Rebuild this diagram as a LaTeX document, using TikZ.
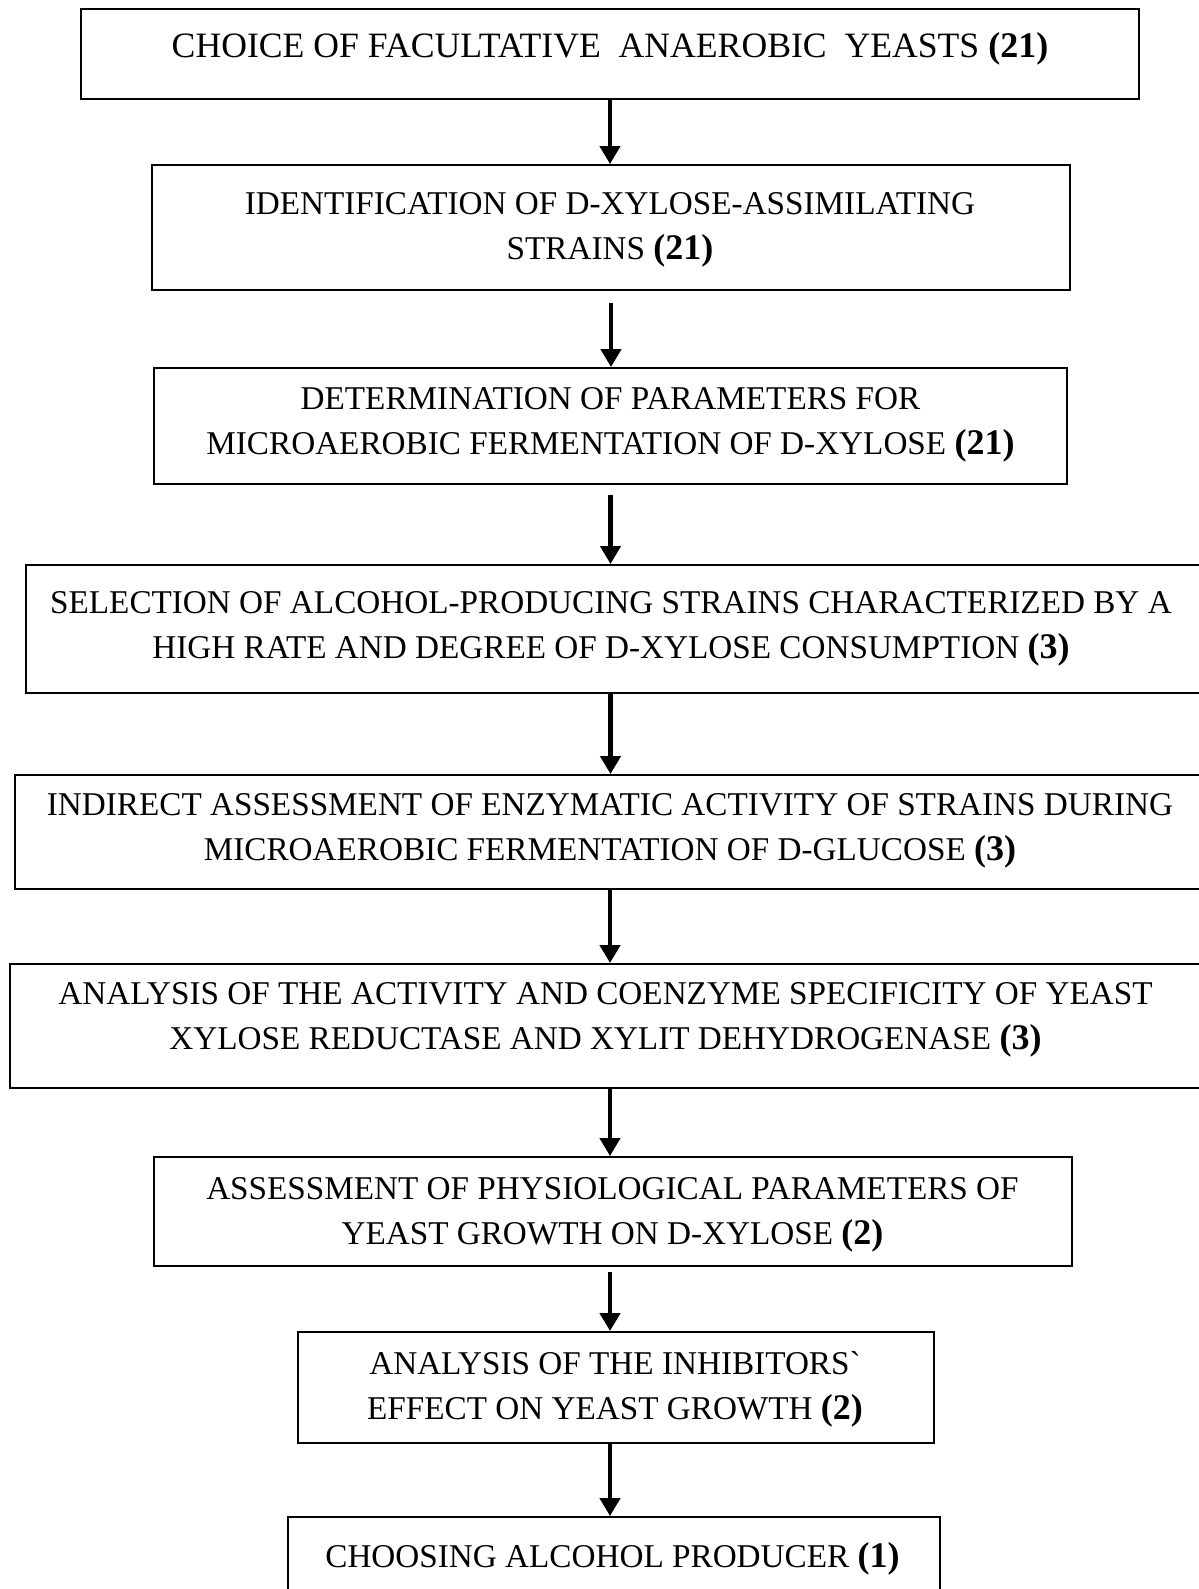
\documentclass[tikz,border=0pt]{standalone}
\usepackage{fontspec}
\setmainfont{Liberation Serif}
\newfontfamily\rawserif{Liberation Serif}
\usetikzlibrary{positioning, arrows.meta}

\newcommand{\stagenum}[1]{{\fontsize{20.5}{25.4}\selectfont\textbf{(#1)}}}

\begin{document}
\begin{tikzpicture}[
	x=0.02cm, y=-0.02cm,
	stage box/.style={draw, line width=1.1pt, rectangle, inner sep=0pt},
	stage text/.style={align=center, inner sep=0pt, font=\fontsize{18.9}{25.4}\selectfont},
	flow arrow/.style={-{Triangle[length=0.36cm, width=0.4cm]}, line width=2.5pt},
	]
	\useasboundingbox (0,0) rectangle (1199,1589);
	
	% boxes (the wide ones run past the right edge)
	\node[stage box, minimum width=1058*0.02cm, minimum height=90*0.02cm] (b1) at (610,54) {};
	\node[stage box, minimum width=918*0.02cm, minimum height=125*0.02cm] (b2) at (611,227.5) {};
	\node[stage box, minimum width=913*0.02cm, minimum height=116*0.02cm] (b3) at (610.5,426) {};
	\node[stage box, minimum width=1176*0.02cm, minimum height=128*0.02cm] (b4) at (614,629) {};
	\node[stage box, minimum width=1190*0.02cm, minimum height=114*0.02cm] (b5) at (610,832) {};
	\node[stage box, minimum width=1193*0.02cm, minimum height=124*0.02cm] (b6) at (606.5,1026) {};
	\node[stage box, minimum width=918*0.02cm, minimum height=109*0.02cm] (b7) at (613,1211.5) {};
	\node[stage box, minimum width=636*0.02cm, minimum height=111*0.02cm] (b8) at (616,1387.5) {};
	\node[stage box, minimum width=652*0.02cm, minimum height=80*0.02cm] (b9) at (614,1557) {};
	
	% texts
	\node[stage text, font=\fontsize{20.3}{25.4}\selectfont] (t1) at (610,48.5) {CHOICE OF FACULTATIVE\ \ ANAEROBIC\ \ YEASTS \stagenum{21}};
	\node[stage text] (t2) at (610,230) {IDENTIFICATION OF D-XYLOSE-ASSIMILATING\\ STRAINS \stagenum{21}};
	\node[stage text] (t3) at (610.5,425) {DETERMINATION OF PARAMETERS FOR\\ MICROAEROBIC FERMENTATION OF D-XYLOSE \stagenum{21}};
	\node[stage text] (t4) at (611,629) {SELECTION OF ALCOHOL-PRODUCING STRAINS CHARACTERIZED BY A\\ HIGH RATE AND DEGREE OF D-XYLOSE CONSUMPTION \stagenum{3}};
	\node[stage text] (t5) at (610,831) {INDIRECT ASSESSMENT OF ENZYMATIC ACTIVITY OF STRAINS DURING\\ MICROAEROBIC FERMENTATION OF D-GLUCOSE \stagenum{3}};
	\node[stage text] (t6) at (605.5,1020) {ANALYSIS OF THE ACTIVITY AND COENZYME SPECIFICITY OF YEAST\\ XYLOSE REDUCTASE AND XYLIT DEHYDROGENASE \stagenum{3}};
	\node[stage text] (t7) at (612.5,1215) {ASSESSMENT OF PHYSIOLOGICAL PARAMETERS OF\\ YEAST GROWTH ON D-XYLOSE \stagenum{2}};
	\node[stage text] (t8) at (615,1389) {ANALYSIS OF THE INHIBITORS{\rawserif\char"60}\\ EFFECT ON YEAST GROWTH \stagenum{2}};
	\node[stage text] (t9) at (612.5,1559) {CHOOSING ALCOHOL PRODUCER \stagenum{1}};
	
	% arrows
	\draw[flow arrow] (b1.south) -- (b1.south |- b2.north);
	\draw[flow arrow, shorten <=12*0.02cm] (b2.south) -- (b2.south |- b3.north);
	\draw[flow arrow, shorten <=10*0.02cm] (b3.south) -- (b3.south |- b4.north);
	\draw[flow arrow] (b4.south -| b3.south) -- (b3.south |- b5.north);
	\draw[flow arrow] (b5.south) -- (b5.south |- b6.north);
	\draw[flow arrow] (b6.south -| b5.south) -- (b5.south |- b7.north);
	\draw[flow arrow, shorten <=5*0.02cm] (b7.south -| b5.south) -- (b5.south |- b8.north);
	\draw[flow arrow] (b8.south -| b5.south) -- (b5.south |- b9.north);
\end{tikzpicture}
\end{document}
